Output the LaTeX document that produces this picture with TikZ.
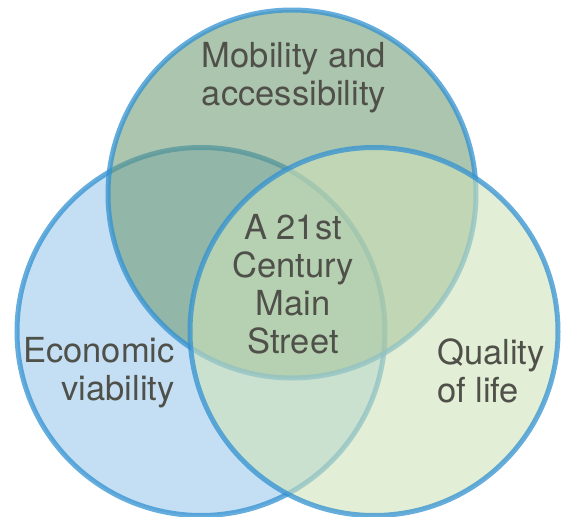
\documentclass[tikz,border=0pt]{standalone}
\usepackage{fontspec}
\setmainfont{TeX Gyre Heros}
\definecolor{leftfill}{RGB}{196,223,243}
\definecolor{topfill}{RGB}{109,153,113}
\definecolor{rightfill}{RGB}{207,227,185}
\definecolor{ring}{RGB}{50,145,210}
\definecolor{txt}{RGB}{80,80,74}
\begin{document}
\begin{tikzpicture}[x=1pt,y=-1pt,
  ringline/.style={circle, minimum size=368pt, inner sep=0pt, draw=ring, draw opacity=0.75, line width=5pt},
  vtext/.style={text=txt, font=\fontsize{34.5}{38}\selectfont, inner sep=0pt}]
\useasboundingbox (0,0) rectangle (563,517);
\node[ringline, fill=leftfill] (econ) at (201,331.5) {};
\node[ringline, fill=topfill, fill opacity=0.57] (mob) at (292,194) {};
\node[ringline, fill=rightfill, fill opacity=0.6] (qual) at (374,331.5) {};
\node[vtext, align=center, anchor=base] (mobt) at (294,105) {Mobility and\\accessibility};
\node[vtext, align=right, anchor=base east] (econt) at (175,400) {Economic\\viability};
\node[vtext, align=left, anchor=base west] (qualt) at (437,402) {Quality\\of life};
\node[vtext, align=center, anchor=base] (core) at (293,353) {A 21st\\Century\\Main\\Street};
\end{tikzpicture}
\end{document}
